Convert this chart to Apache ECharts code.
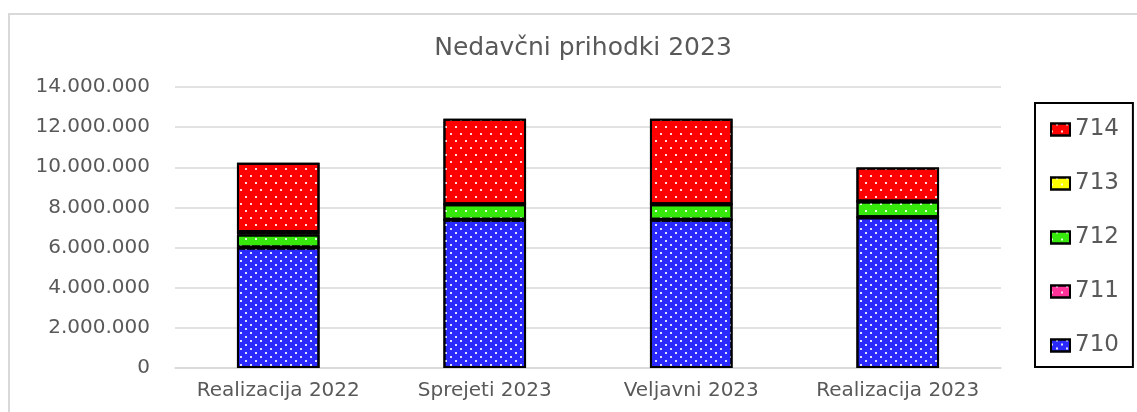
<!DOCTYPE html>
<html>
<head>
<meta charset="utf-8">
<script src="https://cdn.jsdelivr.net/npm/echarts@6/dist/echarts.min.js"></script>
<style>
  html, body { margin: 0; padding: 0; background: #fff; }
  #chart { width: 1137px; height: 412px; }
</style>
</head>
<body>
<div id="chart"></div>
<script>
// kategorije in vrednosti (EUR)
var categories = ['Realizacija 2022', 'Sprejeti 2023', 'Veljavni 2023', 'Realizacija 2023'];
var s710 = [6000000, 7380000, 7380000, 7510000];
var s711 = [0, 0, 0, 0];
var s712 = [650000, 780000, 780000, 780000];
var s713 = [120000, 0, 0, 0];
var s714 = [3450000, 4260000, 4260000, 1700000];
var legendOrder = ['714', '713', '712', '711', '710'];

var textGray = '#595959';
var gridGray = '#d9d9d9';

function fmt (v) {
  return String(v).replace(/\B(?=(\d{3})+(?!\d))/g, '.');
}

//decal pikice
function dots (rowGap) {
  return {
    symbol: 'rect',
    symbolSize: 1,
    color: 'rgba(255,255,255,0.85)',
    dashArrayX: [[1.5, 7.5], [0, 4.5, 1.5, 3]],
    dashArrayY: [1.5, rowGap],
    rotation: 0
  };
}

function bar (name, data, color, rowGap) {
  return {
    name: name,
    type: 'bar',
    stack: 'total',
    barWidth: '40%',
    data: data,
    itemStyle: {
      color: color,
      borderColor: '#000',
      borderWidth: 2,
      decal: dots(rowGap)
    }
  };
}

var chart = echarts.init(document.getElementById('chart'));
chart.setOption({
  animation: false,
  aria: { enabled: true, decal: { show: true } },
  title: {
    text: 'Nedavčni prihodki 2023',
    left: 578,
    top: 31,
    textAlign: 'center',
    textStyle: { color: textGray, fontSize: 25, fontWeight: 'normal', fontFamily: 'DejaVu Sans' }
  },
  graphic: [{
    type: 'rect',
    shape: { x: 9, y: 14, width: 1400, height: 600 },
    style: { fill: 'none', stroke: gridGray, lineWidth: 2 },
    silent: true,
    z: -10
  }],
  legend: {
    orient: 'vertical',
    left: 1035,
    top: 103,
    data: legendOrder,
    icon: 'rect',
    itemWidth: 19,
    itemHeight: 12,
    itemGap: 31,
    padding: [15, 14, 10, 15],
    borderColor: '#000',
    borderWidth: 2,
    backgroundColor: '#fff',
    textStyle: { color: textGray, fontSize: 23, fontFamily: 'DejaVu Sans' }
  },
  grid: { left: 175, right: 136, top: 87, bottom: 44 },
  xAxis: {
    type: 'category',
    data: categories,
    axisTick: { show: false },
    axisLine: { lineStyle: { color: gridGray, width: 1.5 } },
    axisLabel: { color: textGray, fontSize: 20, margin: 13, interval: 0, hideOverlap: false, fontFamily: 'DejaVu Sans' }
  },
  yAxis: {
    type: 'value',
    min: 0,
    max: 14000000,
    interval: 2000000,
    axisLine: { show: false },
    axisTick: { show: false },
    splitLine: { lineStyle: { color: gridGray, width: 1.5 } },
    axisLabel: { color: textGray, fontSize: 20, margin: 25, fontFamily: 'DejaVu Sans', formatter: fmt }
  },
  series: [
    bar('710', s710, '#2a2aff', 2),
    bar('711', s711, '#ff3399', 4),
    bar('712', s712, '#36e80c', 5),
    bar('713', s713, '#ffff00', 4),
    bar('714', s714, '#ff0000', 5)
  ]
});
</script>
</body>
</html>
